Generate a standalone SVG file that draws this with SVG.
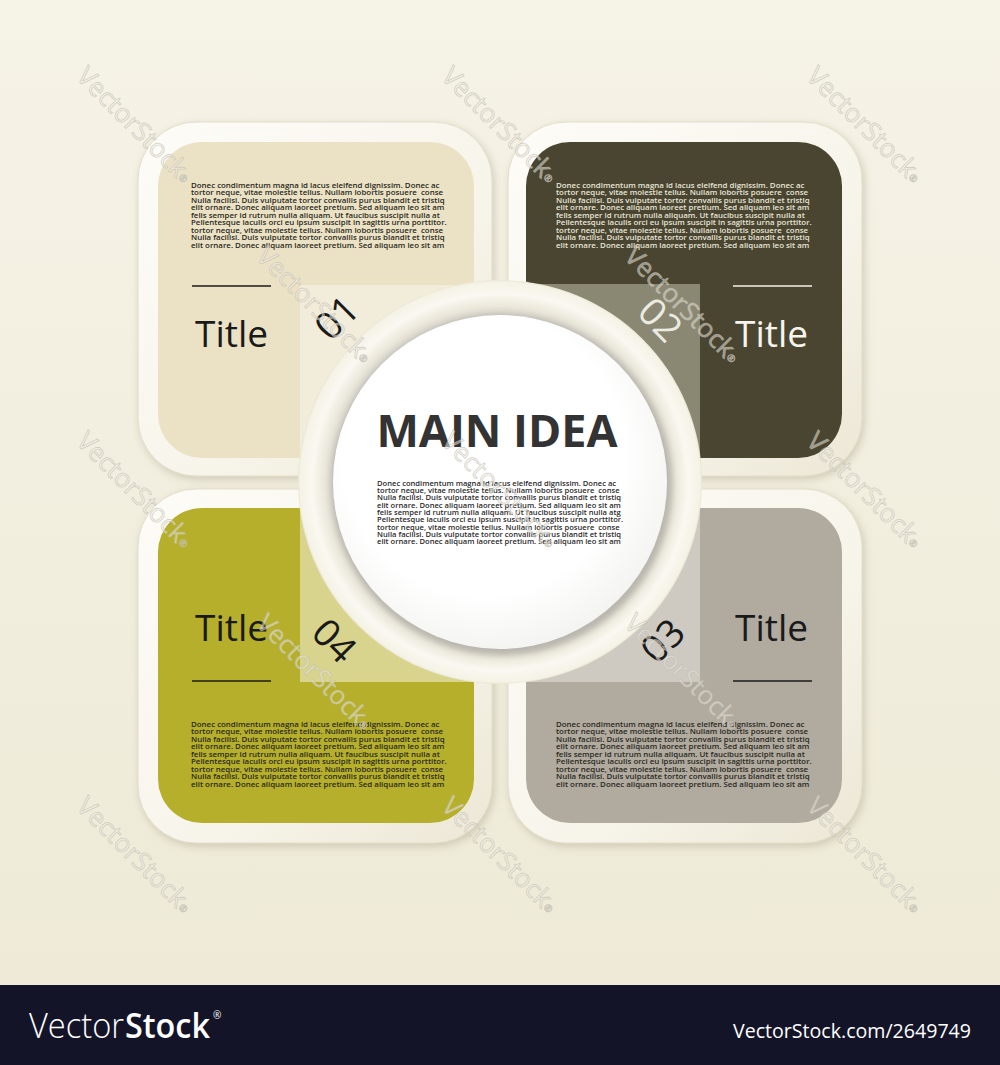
<svg xmlns="http://www.w3.org/2000/svg" width="1000" height="1065" viewBox="0 0 1000 1065">
<defs>
<style>
.para{font-family:"Open Sans","Liberation Sans",sans-serif;font-size:7.9px;font-weight:600;}
.cpara{font-family:"Open Sans","Liberation Sans",sans-serif;font-size:7.6px;font-weight:600;}
.title{font-family:"Open Sans","Liberation Sans",sans-serif;font-size:37px;}
.num{font-family:"Open Sans","Liberation Sans",sans-serif;font-size:38px;text-anchor:middle;}
.wm{font-family:"Open Sans","Liberation Sans",sans-serif;font-size:26px;fill:#f2efe6;fill-opacity:0.5;stroke:#bdb9ad;stroke-width:0.7;stroke-opacity:0.7;text-anchor:middle;}
.border{fill:url(#borderGrad);stroke:#e3ddc8;stroke-width:1;filter:url(#shadow);}
.rule{stroke-width:1.6;}
</style>
<linearGradient id="bgGrad" x1="0" y1="0" x2="0" y2="1">
<stop offset="0" stop-color="#f6f3e7"/>
<stop offset="1" stop-color="#eeead7"/>
</linearGradient>
<linearGradient id="borderGrad" x1="0" y1="0" x2="1" y2="1">
<stop offset="0" stop-color="#fdfcf8"/>
<stop offset="0.6" stop-color="#f7f4ea"/>
<stop offset="1" stop-color="#ece7d5"/>
</linearGradient>
<radialGradient id="ringGrad" cx="500" cy="482" r="202" gradientUnits="userSpaceOnUse">
<stop offset="0.82" stop-color="#d3d0c7"/>
<stop offset="0.87" stop-color="#ebe7da"/>
<stop offset="0.93" stop-color="#faf8f1"/>
<stop offset="0.99" stop-color="#f5f2e6"/>
<stop offset="1" stop-color="#ebe6d2"/>
</radialGradient>
<radialGradient id="circleGrad" cx="0.45" cy="0.42" r="0.6">
<stop offset="0.7" stop-color="#ffffff"/>
<stop offset="1" stop-color="#f3f3f1"/>
</radialGradient>
<filter id="shadow" x="-10%" y="-10%" width="125%" height="125%">
<feDropShadow dx="2" dy="3" stdDeviation="4" flood-color="#9a9478" flood-opacity="0.4"/>
</filter>
<filter id="blur3" x="-10%" y="-10%" width="120%" height="120%">
<feGaussianBlur stdDeviation="3"/>
</filter>
</defs>

<rect x="0" y="0" width="1000" height="985" fill="url(#bgGrad)"/>

<g id="panel-01">
<rect class="border" x="138" y="122" width="354" height="354" rx="58"/>
<rect x="158" y="142" width="316" height="316" rx="44" fill="#ebe2c6"/>
<rect x="300" y="285" width="174" height="173" fill="#f2ecda"/>
</g>
<g id="panel-02">
<rect class="border" x="508" y="122" width="354" height="354" rx="58"/>
<rect x="526" y="142" width="316" height="316" rx="44" fill="#494530"/>
<rect x="526" y="284" width="174" height="174" fill="#8a8873"/>
</g>
<g id="panel-03">
<rect class="border" x="508" y="489" width="354" height="354" rx="58"/>
<rect x="526" y="508" width="316" height="315" rx="44" fill="#b0aa9f"/>
<rect x="526" y="508" width="174" height="174" fill="#cec9c1"/>
</g>
<g id="panel-04">
<rect class="border" x="138" y="489" width="354" height="354" rx="58"/>
<rect x="158" y="508" width="316" height="315" rx="44" fill="#b6af2c"/>
<rect x="300" y="508" width="174" height="174" fill="#d8d48e"/>
</g>

<g id="main-idea">
<circle cx="500" cy="482" r="202" fill="url(#ringGrad)"/>
<circle cx="502" cy="485" r="170" fill="#b9b6ad" filter="url(#blur3)"/>
<circle cx="500" cy="482" r="167" fill="url(#circleGrad)"/>
<text x="497" y="447" font-family="'Open Sans','Liberation Sans',sans-serif" font-size="45" font-weight="700" fill="#333333" text-anchor="middle">MAIN IDEA</text>
<text class="cpara" x="377" y="485.5" fill="#2b2b2b"><tspan x="377">Donec condimentum magna id lacus eleifend dignissim. Donec ac</tspan>
<tspan x="377" dy="7.35">tortor neque, vitae molestie tellus. Nullam lobortis posuere&#160; conse</tspan>
<tspan x="377" dy="7.35">Nulla facilisi. Duis vulputate tortor convallis purus blandit et tristiq</tspan>
<tspan x="377" dy="7.35">elit ornare. Donec aliquam laoreet pretium. Sed aliquam leo sit am</tspan>
<tspan x="377" dy="7.35">felis semper id rutrum nulla aliquam. Ut faucibus suscipit nulla atg</tspan>
<tspan x="377" dy="7.35">Pellentesque iaculis orci eu ipsum suscipit in sagittis urna porttitor.</tspan>
<tspan x="377" dy="7.35">tortor neque, vitae molestie tellus. Nullam lobortis posuere&#160; conse</tspan>
<tspan x="377" dy="7.35">Nulla facilisi. Duis vulputate tortor convallis purus blandit et tristiq</tspan>
<tspan x="377" dy="7.35">elit ornare. Donec aliquam laoreet pretium. Sed aliquam leo sit am</tspan></text>
</g>

<g id="panel-01-text">
<text class="para" x="191" y="187.5" fill="#2a2920"><tspan x="191">Donec condimentum magna id lacus eleifend dignissim. Donec ac</tspan>
<tspan x="191" dy="7.5">tortor neque, vitae molestie tellus. Nullam lobortis posuere&#160; conse</tspan>
<tspan x="191" dy="7.5">Nulla facilisi. Duis vulputate tortor convallis purus blandit et tristiq</tspan>
<tspan x="191" dy="7.5">elit ornare. Donec aliquam laoreet pretium. Sed aliquam leo sit am</tspan>
<tspan x="191" dy="7.5">felis semper id rutrum nulla aliquam. Ut faucibus suscipit nulla at</tspan>
<tspan x="191" dy="7.5">Pellentesque iaculis orci eu ipsum suscipit in sagittis urna porttitor.</tspan>
<tspan x="191" dy="7.5">tortor neque, vitae molestie tellus. Nullam lobortis posuere&#160; conse</tspan>
<tspan x="191" dy="7.5">Nulla facilisi. Duis vulputate tortor convallis purus blandit et tristiq</tspan>
<tspan x="191" dy="7.5">elit ornare. Donec aliquam laoreet pretium. Sed aliquam leo sit am</tspan></text>
<line class="rule" x1="192" y1="286" x2="271" y2="286" stroke="#1a1a1a"/>
<text class="title" x="195" y="347" fill="#1a1a1a">Title</text>
<text class="num" transform="translate(337,318) rotate(-45)" x="0" y="13" fill="#1a1a1a">01</text>
</g>

<g id="panel-02-text">
<text class="para" x="556" y="187.5" fill="#e8e5d8"><tspan x="556">Donec condimentum magna id lacus eleifend dignissim. Donec ac</tspan>
<tspan x="556" dy="7.5">tortor neque, vitae molestie tellus. Nullam lobortis posuere&#160; conse</tspan>
<tspan x="556" dy="7.5">Nulla facilisi. Duis vulputate tortor convallis purus blandit et tristiq</tspan>
<tspan x="556" dy="7.5">elit ornare. Donec aliquam laoreet pretium. Sed aliquam leo sit am</tspan>
<tspan x="556" dy="7.5">felis semper id rutrum nulla aliquam. Ut faucibus suscipit nulla at</tspan>
<tspan x="556" dy="7.5">Pellentesque iaculis orci eu ipsum suscipit in sagittis urna porttitor.</tspan>
<tspan x="556" dy="7.5">tortor neque, vitae molestie tellus. Nullam lobortis posuere&#160; conse</tspan>
<tspan x="556" dy="7.5">Nulla facilisi. Duis vulputate tortor convallis purus blandit et tristiq</tspan>
<tspan x="556" dy="7.5">elit ornare. Donec aliquam laoreet pretium. Sed aliquam leo sit am</tspan></text>
<line class="rule" x1="733" y1="286" x2="812" y2="286" stroke="#f4f2ea"/>
<text class="title" x="735" y="347" fill="#f6f4ec">Title</text>
<text class="num" transform="translate(660,320) rotate(45)" x="0" y="13" fill="#ecebe2">02</text>
</g>

<g id="panel-03-text">
<text class="para" x="556" y="726.5" fill="#2a2920"><tspan x="556">Donec condimentum magna id lacus eleifend dignissim. Donec ac</tspan>
<tspan x="556" dy="7.5">tortor neque, vitae molestie tellus. Nullam lobortis posuere&#160; conse</tspan>
<tspan x="556" dy="7.5">Nulla facilisi. Duis vulputate tortor convallis purus blandit et tristiq</tspan>
<tspan x="556" dy="7.5">elit ornare. Donec aliquam laoreet pretium. Sed aliquam leo sit am</tspan>
<tspan x="556" dy="7.5">felis semper id rutrum nulla aliquam. Ut faucibus suscipit nulla at</tspan>
<tspan x="556" dy="7.5">Pellentesque iaculis orci eu ipsum suscipit in sagittis urna porttitor.</tspan>
<tspan x="556" dy="7.5">tortor neque, vitae molestie tellus. Nullam lobortis posuere&#160; conse</tspan>
<tspan x="556" dy="7.5">Nulla facilisi. Duis vulputate tortor convallis purus blandit et tristiq</tspan>
<tspan x="556" dy="7.5">elit ornare. Donec aliquam laoreet pretium. Sed aliquam leo sit am</tspan></text>
<line class="rule" x1="733" y1="681" x2="812" y2="681" stroke="#1a1a1a"/>
<text class="title" x="735" y="641" fill="#1a1a1a">Title</text>
<text class="num" transform="translate(663,641) rotate(-45)" x="0" y="13" fill="#1a1a1a">03</text>
</g>

<g id="panel-04-text">
<text class="para" x="191" y="726.5" fill="#2a2920"><tspan x="191">Donec condimentum magna id lacus eleifend dignissim. Donec ac</tspan>
<tspan x="191" dy="7.5">tortor neque, vitae molestie tellus. Nullam lobortis posuere&#160; conse</tspan>
<tspan x="191" dy="7.5">Nulla facilisi. Duis vulputate tortor convallis purus blandit et tristiq</tspan>
<tspan x="191" dy="7.5">elit ornare. Donec aliquam laoreet pretium. Sed aliquam leo sit am</tspan>
<tspan x="191" dy="7.5">felis semper id rutrum nulla aliquam. Ut faucibus suscipit nulla at</tspan>
<tspan x="191" dy="7.5">Pellentesque iaculis orci eu ipsum suscipit in sagittis urna porttitor.</tspan>
<tspan x="191" dy="7.5">tortor neque, vitae molestie tellus. Nullam lobortis posuere&#160; conse</tspan>
<tspan x="191" dy="7.5">Nulla facilisi. Duis vulputate tortor convallis purus blandit et tristiq</tspan>
<tspan x="191" dy="7.5">elit ornare. Donec aliquam laoreet pretium. Sed aliquam leo sit am</tspan></text>
<line class="rule" x1="192" y1="681" x2="271" y2="681" stroke="#1a1a1a"/>
<text class="title" x="195" y="641" fill="#1a1a1a">Title</text>
<text class="num" transform="translate(334,641) rotate(45)" x="0" y="13" fill="#1a1a1a">04</text>
</g>

<g id="connectors"/>

<g id="watermarks">
<text class="wm" transform="translate(135,125) rotate(45)" y="9">VectorStock<tspan font-size="10" dy="-2">®</tspan></text>
<text class="wm" transform="translate(500,125) rotate(45)" y="9">VectorStock<tspan font-size="10" dy="-2">®</tspan></text>
<text class="wm" transform="translate(865,125) rotate(45)" y="9">VectorStock<tspan font-size="10" dy="-2">®</tspan></text>
<text class="wm" transform="translate(315,305) rotate(45)" y="9">VectorStock<tspan font-size="10" dy="-2">®</tspan></text>
<text class="wm" transform="translate(683,305) rotate(45)" y="9">VectorStock<tspan font-size="10" dy="-2">®</tspan></text>
<text class="wm" transform="translate(135,490) rotate(45)" y="9">VectorStock<tspan font-size="10" dy="-2">®</tspan></text>
<text class="wm" transform="translate(500,490) rotate(45)" y="9">VectorStock<tspan font-size="10" dy="-2">®</tspan></text>
<text class="wm" transform="translate(865,490) rotate(45)" y="9">VectorStock<tspan font-size="10" dy="-2">®</tspan></text>
<text class="wm" transform="translate(315,672) rotate(45)" y="9">VectorStock<tspan font-size="10" dy="-2">®</tspan></text>
<text class="wm" transform="translate(683,672) rotate(45)" y="9">VectorStock<tspan font-size="10" dy="-2">®</tspan></text>
<text class="wm" transform="translate(135,855) rotate(45)" y="9">VectorStock<tspan font-size="10" dy="-2">®</tspan></text>
<text class="wm" transform="translate(500,855) rotate(45)" y="9">VectorStock<tspan font-size="10" dy="-2">®</tspan></text>
<text class="wm" transform="translate(865,855) rotate(45)" y="9">VectorStock<tspan font-size="10" dy="-2">®</tspan></text>
</g>

<g id="footer">
<rect x="0" y="985" width="1000" height="80" fill="#141428"/>
<text x="29" y="1038" font-family="'Open Sans','Liberation Sans',sans-serif" font-size="34" font-weight="300" fill="#ffffff" textLength="95" lengthAdjust="spacingAndGlyphs">Vector</text>
<text x="125" y="1038" font-family="'Open Sans','Liberation Sans',sans-serif" font-size="34" font-weight="600" fill="#ffffff" textLength="85" lengthAdjust="spacingAndGlyphs">Stock</text>
<text x="213" y="1019" font-family="'Open Sans','Liberation Sans',sans-serif" font-size="10" fill="#ffffff">®</text>
<text x="733" y="1038" font-family="'Open Sans','Liberation Sans',sans-serif" font-size="20" fill="#ffffff" textLength="238" lengthAdjust="spacingAndGlyphs">VectorStock.com/2649749</text>
</g>
</svg>
